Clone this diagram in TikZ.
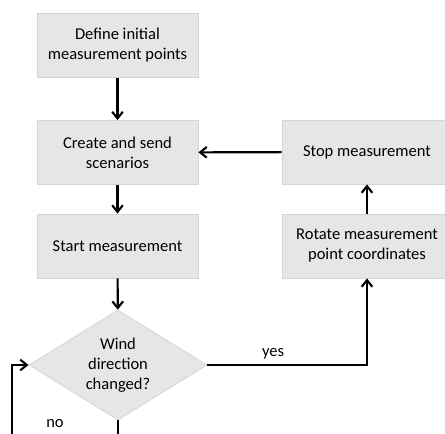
\documentclass[tikz,border=0pt]{standalone}
\usepackage{fontspec}
\setmainfont{Carlito}
\usepackage{xcolor}
\usetikzlibrary{arrows.meta,positioning,shapes.geometric}
\definecolor{pgray}{HTML}{E6E6E6}
\definecolor{pgrayl}{HTML}{D4D4D4}
\tikzset{
  % Flat grey step box with a faint outline.
  stepbox/.style  = {rectangle, draw=pgrayl, fill=pgray, line width=0.6pt,
                     align=center, inner sep=3pt, font=\fontsize{12.4}{15}\selectfont,
                     minimum width=#1, minimum height=48pt},
  stepbox/.default = 120.75pt,
  decide/.style   = {diamond, draw=pgrayl, fill=pgray, line width=0.6pt, aspect=1.6,
                     align=center, inner sep=0pt, font=\fontsize{12.4}{15}\selectfont,
                     minimum width=133.5pt, minimum height=82.5pt},
  arr/.style      = {-{Straight Barb[length=5pt,width=8pt]}, line width=1.6pt, black},
  lbl/.style      = {font=\fontsize{12.4}{15}\selectfont, inner sep=1pt},
}

\begin{document}
\begin{tikzpicture}[x=0.75pt,y=-0.75pt]
\useasboundingbox (0,0) rectangle (445,433);
% --- left column ----------------------------------------------------------
\node[stepbox] (define) at (117.5,45.5)  {Define initial\\measurement points};
\node[stepbox] (create) at (117.5,152.5) {Create and send\\scenarios};
\node[stepbox] (start)  at (117.5,246)   {Start measurement};
\node[decide]  (wind)   at (118,365)     {Wind\\direction\\changed?};
% --- right column ---------------------------------------------------------
\node[stepbox=127.5pt] (stop)   at (367,152)  {Stop measurement};
\node[stepbox=127.5pt] (rotate) at (367,246)  {Rotate measurement\\point coordinates};
% --- flow -----------------------------------------------------------------
\draw[arr] (define) -- (create);
\draw[arr] (create) -- (start);
\draw[arr] (start) -- (wind);
\draw[arr] (wind.east) -| (rotate.south);
\draw[arr] (rotate) -- (stop);
\draw[arr] (stop) -- (create);
% --- the "no" loop runs out past the bottom edge -------------------------
\coordinate (loop) at (12,470);
\draw[arr] (wind.south) |- (loop) |- (wind.west);
% --- branch labels --------------------------------------------------------
\node[lbl] (yes) at (273,354) {yes};
\node[lbl] (no)  at (55,424)  {no};
\end{tikzpicture}
\end{document}
